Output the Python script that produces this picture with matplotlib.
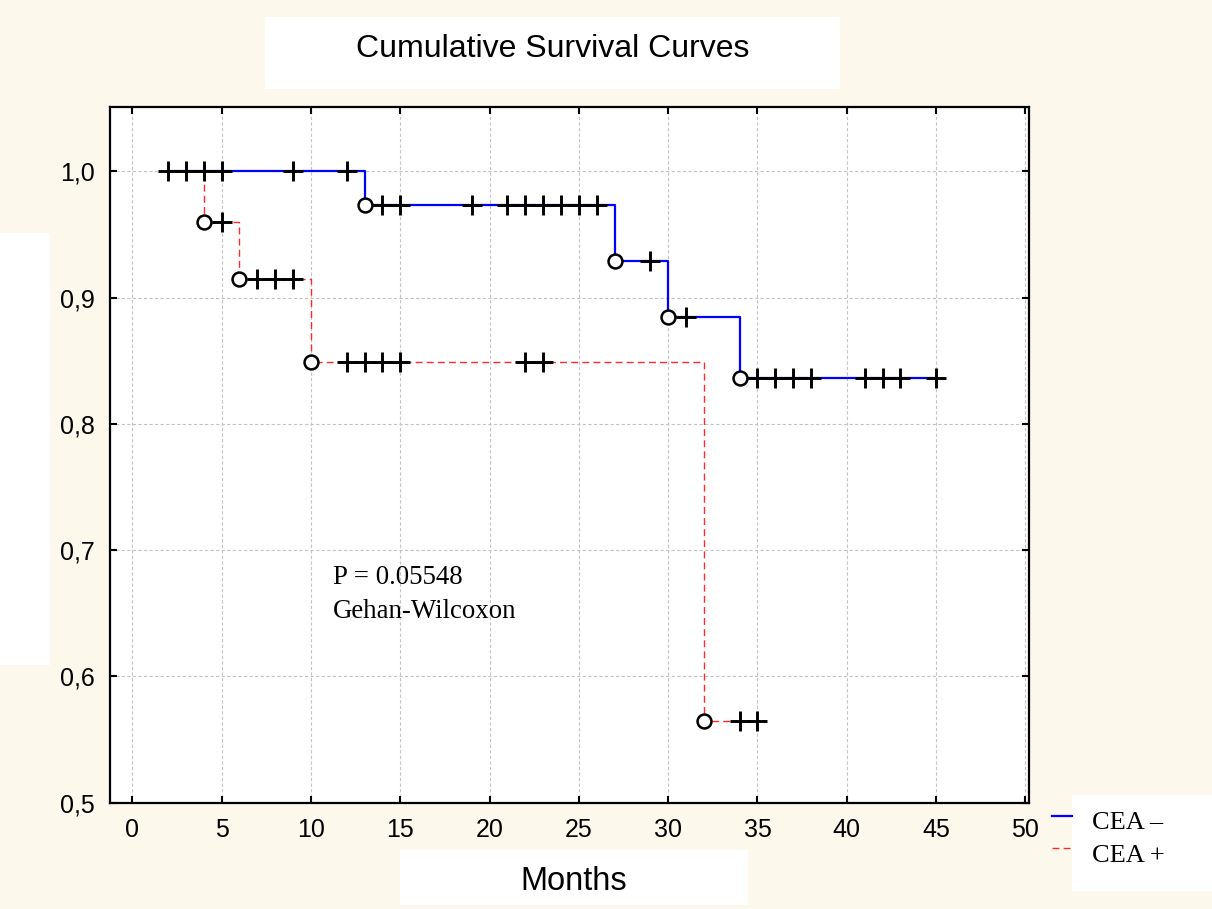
"""Cumulative survival curves (Kaplan-Meier style), CEA- vs CEA+."""
import numpy as np
import matplotlib
matplotlib.use("Agg")
import matplotlib.pyplot as plt
from matplotlib.patches import Rectangle
from matplotlib.lines import Line2D

# step curves: time where each level starts, survival level
neg_times = [2, 13, 27, 30, 34, 45]
neg_surv = [1.0, 0.973, 0.929, 0.885, 0.836, 0.836]
pos_times = [3.5, 4, 6, 10, 32, 35]
pos_surv = [1.0, 0.96, 0.915, 0.849, 0.565, 0.565]

# events (circles) and censored cases (crosses)
neg_events = [13, 27, 30, 34]
pos_events = [4, 6, 10, 32]
neg_censored = [2, 3, 4, 5, 9, 12, 14, 15, 19, 21, 22, 23, 24, 25, 26,
                29, 31, 35, 36, 37, 38, 41, 42, 43, 45]
pos_censored = [5, 7, 8, 9, 12, 13, 14, 15, 22, 23, 34, 35]

x_ticks = [0, 5, 10, 15, 20, 25, 30, 35, 40, 45, 50]
y_ticks = [0.5, 0.6, 0.7, 0.8, 0.9, 1.0]
y_labels = ["0,5", "0,6", "0,7", "0,8", "0,9", "1,0"]

title = "Cumulative Survival Curves"
x_label = "Months"
p_text = "P = 0.05548"
test_text = "Gehan-Wilcoxon"
legend_labels = ["CEA \u2013", "CEA +"]

SANS = "Liberation Sans"
SERIF = "Liberation Serif"
CREAM = "#fdf8ec"
BLUE = "#0000ff"
RED = "#ff2a2a"


def level_at(times, surv, t):
    i = np.searchsorted(times, t, side="right") - 1
    return np.asarray(surv)[np.clip(i, 0, len(surv) - 1)]


fig = plt.figure(figsize=(12.12, 9.09), dpi=100, facecolor=CREAM)

# white panels of the original layout
for (x0, y0, x1, y1) in [(265, 17, 840, 89), (400, 850, 748, 905),
                         (1072, 795, 1212, 891), (0, 233, 50, 665)]:
    fig.patches.append(Rectangle((x0 / 1212, 1 - y1 / 909), (x1 - x0) / 1212,
                                 (y1 - y0) / 909, transform=fig.transFigure,
                                 facecolor="white", edgecolor="none", zorder=0))

ax = fig.add_axes([110 / 1212, 1 - 802.7 / 909, (1029 - 110) / 1212,
                   (802.7 - 107.3) / 909])
ax.set_facecolor("white")
ax.set_xlim(-1.25, 50.2)
ax.set_ylim(0.5, 1.0507)

ax.grid(True, color="#c4c4c4", linestyle=(0, (3, 2)), linewidth=0.8)
ax.set_axisbelow(True)

ax.step(pos_times, pos_surv, where="post", color=RED, linewidth=1.0,
        linestyle=(0, (5, 3)), zorder=3)
ax.step(neg_times, neg_surv, where="post", color=BLUE, linewidth=1.6, zorder=3)

for times, surv, ev, cens in [(neg_times, neg_surv, neg_events, neg_censored),
                              (pos_times, pos_surv, pos_events, pos_censored)]:
    ax.plot(ev, level_at(times, surv, ev), linestyle="none", marker="o",
            markersize=10, markerfacecolor="white", markeredgecolor="black",
            markeredgewidth=1.8, zorder=4)
    ax.plot(cens, level_at(times, surv, cens), linestyle="none", marker="+",
            markersize=14, markeredgecolor="black", markeredgewidth=2.1,
            zorder=5)

ax.set_xticks(x_ticks)
ax.set_yticks(y_ticks)
ax.set_yticklabels(y_labels)
ax.tick_params(direction="in", length=5, width=1.5, top=True, right=True,
               labelsize=18, pad=11)
for lab in ax.get_xticklabels() + ax.get_yticklabels():
    lab.set_fontfamily(SANS)
for sp in ax.spines.values():
    sp.set_linewidth(1.6)

ax.text(11.21, 0.6732, p_text, fontsize=19.4, family=SERIF, va="baseline")
ax.text(11.21, 0.6461, test_text, fontsize=19.4, family=SERIF, va="baseline")

fig.text(553 / 1212, 1 - 49 / 909, title, fontsize=23, family=SANS,
         ha="center", va="center")
fig.text(574 / 1212, 1 - 881 / 909, x_label, fontsize=23.5, family=SANS,
         ha="center", va="center")

# legend drawn outside the plot area, like the original
for yy, col, ls, lw, lab, base in [(815.7, BLUE, "-", 1.6, legend_labels[0], 829.3),
                                   (848.3, RED, (0, (5, 3)), 1.0, legend_labels[1], 861.7)]:
    fig.add_artist(Line2D([1052 / 1212, 1072 / 1212], [1 - yy / 909, 1 - yy / 909],
                          transform=fig.transFigure, color=col, linestyle=ls,
                          linewidth=lw))
    fig.text(1092 / 1212, 1 - base / 909, lab, fontsize=19, family=SERIF,
             va="baseline")

fig.savefig("out.png", dpi=100, facecolor=CREAM)
